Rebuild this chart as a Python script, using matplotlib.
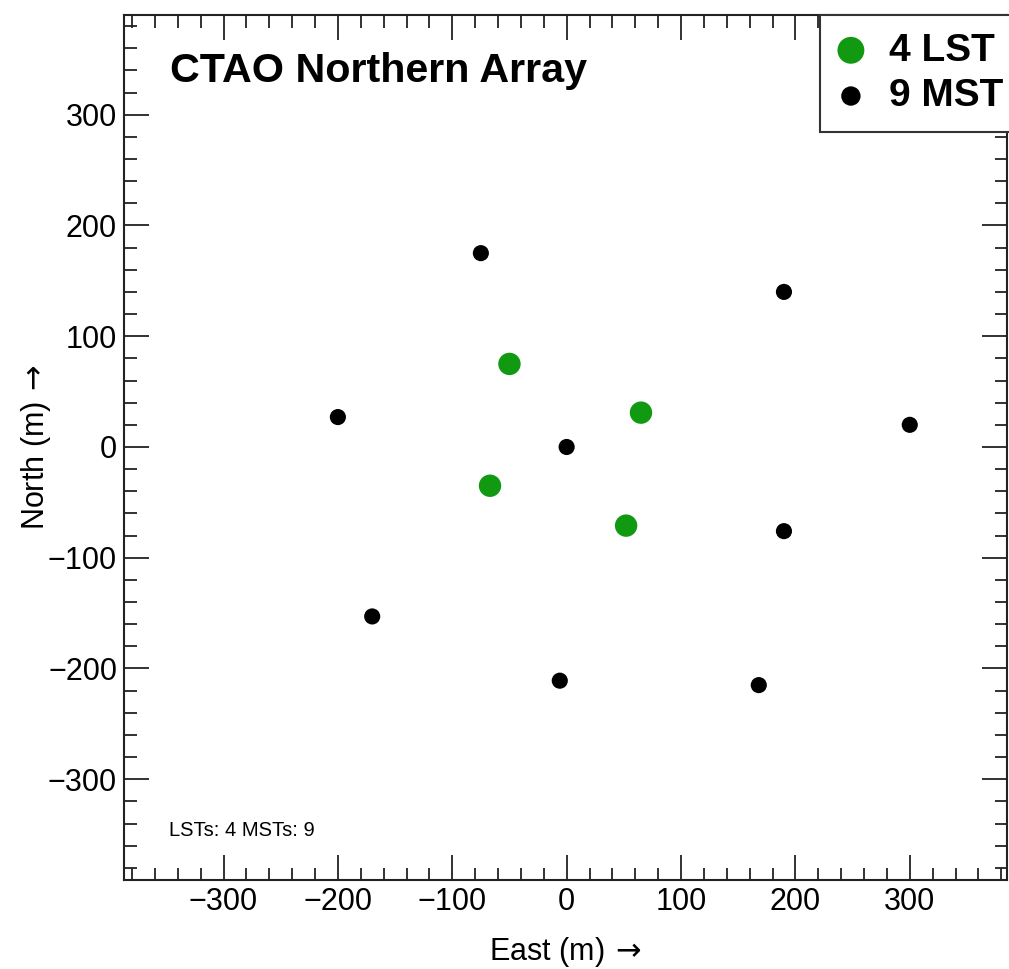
import numpy as np
from matplotlib import pyplot as plt
from matplotlib.ticker import MultipleLocator

# telescope positions (m)
lst_east = [-50, 65, -67, 52]
lst_north = [75, 31, -35, -71]
mst_east = [-75, 190, -200, 0, 300, 190, -170, -6, 168]
mst_north = [175, 140, 27, 0, 20, -76, -153, -211, -215]

plt.rcParams["font.family"] = ["Liberation Sans", "DejaVu Sans"]

fig = plt.figure(figsize=(10.09, 9.69), dpi=100)
axes = fig.add_axes([0.1229, 0.0918, 0.8751, 0.8927])

axes.scatter(lst_east, lst_north, s=260, color="#119a11", edgecolors="none",
             label=f"{len(lst_east)} LST", zorder=3)
axes.scatter(mst_east, mst_north, s=135, color="black", edgecolors="none",
             label=f"{len(mst_east)} MST", zorder=3)

axes.set_xlim(-387, 385)
axes.set_ylim(-391, 390)
axes.xaxis.set_major_locator(MultipleLocator(100))
axes.xaxis.set_minor_locator(MultipleLocator(20))
axes.yaxis.set_major_locator(MultipleLocator(100))
axes.yaxis.set_minor_locator(MultipleLocator(20))
axes.tick_params(which="both", direction="in", top=True, right=True,
                 width=1.3, color="#222222")
axes.tick_params(which="major", length=18, labelsize=22, pad=5)
axes.tick_params(which="minor", length=9)
for sp in axes.spines.values():
    sp.set_linewidth(1.5)
    sp.set_color("#222222")

axes.set_xlabel("East (m)$\\,\\rightarrow$", fontsize=22, labelpad=13)
axes.set_ylabel("North (m)$\\,\\rightarrow$", fontsize=22, labelpad=-4)

axes.text(0.052, 0.9225, "CTAO Northern Array", transform=axes.transAxes,
          fontsize=29.7, fontweight="bold", va="baseline", ha="left")
axes.text(0.051, 0.051, "LSTs: 4 MSTs: 9", transform=axes.transAxes,
          fontsize=14.5, va="baseline", ha="left")

leg = axes.legend(loc="upper left", bbox_to_anchor=(0.788, 1.0),
                  prop={"weight": "bold", "size": 28}, markerscale=1.2,
                  frameon=True, fancybox=False, borderaxespad=0, handletextpad=0.62,
                  labelspacing=0.25, borderpad=0.45, handlelength=0.7)
leg.get_frame().set_edgecolor("#333333")
leg.get_frame().set_linewidth(1.5)
leg.get_frame().set_alpha(1)

fig.savefig("out.png", dpi=100, facecolor="white")
